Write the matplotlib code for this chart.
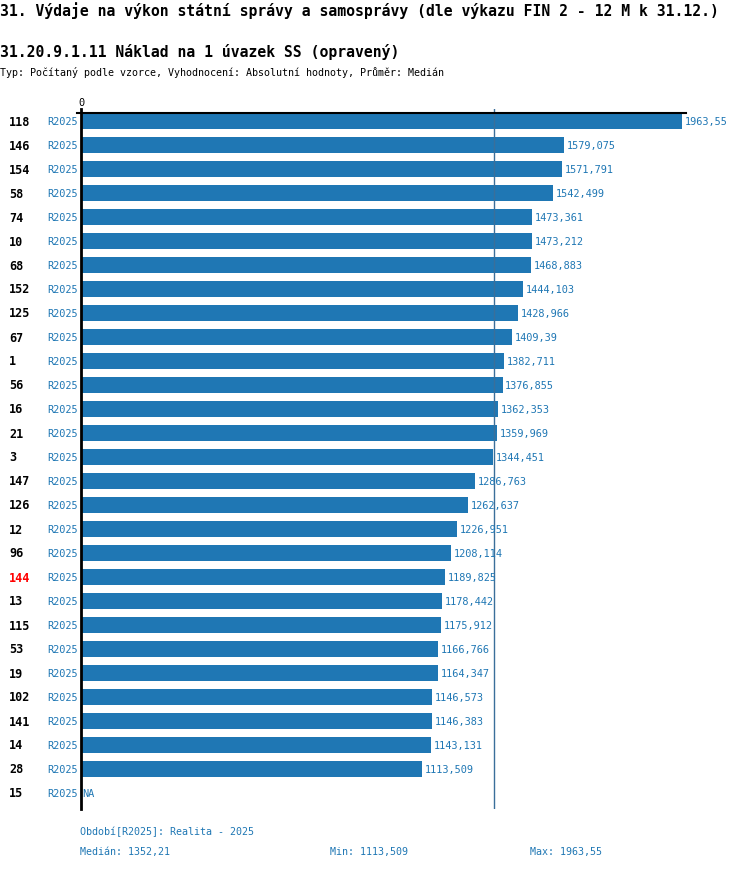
import numpy as np
import matplotlib.pyplot as plt

# datos del grafico
ids = ["118", "146", "154", "58", "74", "10", "68", "152", "125", "67", "1", "56",
       "16", "21", "3", "147", "126", "12", "96", "144", "13", "115", "53", "19",
       "102", "141", "14", "28", "15"]
valores = [1963.55, 1579.075, 1571.791, 1542.499, 1473.361, 1473.212, 1468.883,
           1444.103, 1428.966, 1409.39, 1382.711, 1376.855, 1362.353, 1359.969,
           1344.451, 1286.763, 1262.637, 1226.951, 1208.114, 1189.825, 1178.442,
           1175.912, 1166.766, 1164.347, 1146.573, 1146.383, 1143.131, 1113.509,
           np.nan]
periodo = "R2025"
resaltado = "144"
median = 1352.21

titulo = "31. Výdaje na výkon státní správy a samosprávy (dle výkazu FIN 2 - 12 M k 31.12.)"
subtitulo = "31.20.9.1.11 Náklad na 1 úvazek SS (opravený)"
tipo = "Typ: Počítaný podle vzorce, Vyhodnocení: Absolutní hodnoty, Průměr: Medián"

AZUL = "#1f77b4"
W, H = 750, 870
plt.rcParams['font.family'] = ['DejaVu Sans Mono']


def fx(px):
    return px / W


def fy(py):
    return 1 - py / H


fig = plt.figure(figsize=(7.5, 8.7), dpi=100)
# eje en coordenadas de pixel: x 81..692, y 110..810
ax = fig.add_axes([fx(81), fy(810), fx(692) - fx(81), (700) / H])
ax.set_xlim(0, 2000)
ax.set_ylim(28.667, -0.5)

y = np.arange(len(ids))
vals = np.array(valores)
ax.barh(y, np.nan_to_num(vals), height=0.67, color=AZUL, left=3)

for i, v in enumerate(vals):
    if np.isnan(v):
        txt, xpos = "NA", 5
    else:
        txt, xpos = str(v).replace('.', ','), v + 12
    ax.text(xpos, i, txt, color=AZUL, fontsize=7.4, va='center', ha='left', clip_on=False)

# linea de mediana
ax.axvline(median, color="#3a6f9a", lw=1)
# linea superior
ax.plot([-13, 1980], [-0.33, -0.33], color='black', lw=1.5, clip_on=False)
ax.text(0, -0.8, "0", fontsize=7.4, ha='center', va='center', clip_on=False)

for s in ['top', 'right', 'bottom']:
    ax.spines[s].set_visible(False)
ax.spines['left'].set_linewidth(2)
ax.set_xticks([])
ax.set_yticks([])

# etiquetas de filas
for i, nombre in enumerate(ids):
    ypx = 122 + 24 * i
    col = 'red' if nombre == resaltado else 'black'
    fig.text(fx(9), fy(ypx), nombre, color=col, fontsize=8.5, fontweight='bold', va='center')
    fig.text(fx(47), fy(ypx), periodo, color=AZUL, fontsize=7.4, va='center')

fig.text(fx(0), fy(11), titulo, fontsize=10.6, fontweight='bold', va='center')
fig.text(fx(0), fy(52), subtitulo, fontsize=10.6, fontweight='bold', va='center')
fig.text(fx(0), fy(73), tipo, fontsize=7.2, va='center')

fig.text(fx(80), fy(832), "Období[R2025]: Realita - 2025", color=AZUL, fontsize=7.2, va='center')
fig.text(fx(80), fy(852), "Medián: " + str(median).replace('.', ','), color=AZUL, fontsize=7.2, va='center')
fig.text(fx(330), fy(852), "Min: " + str(np.nanmin(vals)).replace('.', ','), color=AZUL, fontsize=7.2, va='center')
fig.text(fx(530), fy(852), "Max: " + str(np.nanmax(vals)).replace('.', ','), color=AZUL, fontsize=7.2, va='center')

fig.savefig("out.png", dpi=100)
